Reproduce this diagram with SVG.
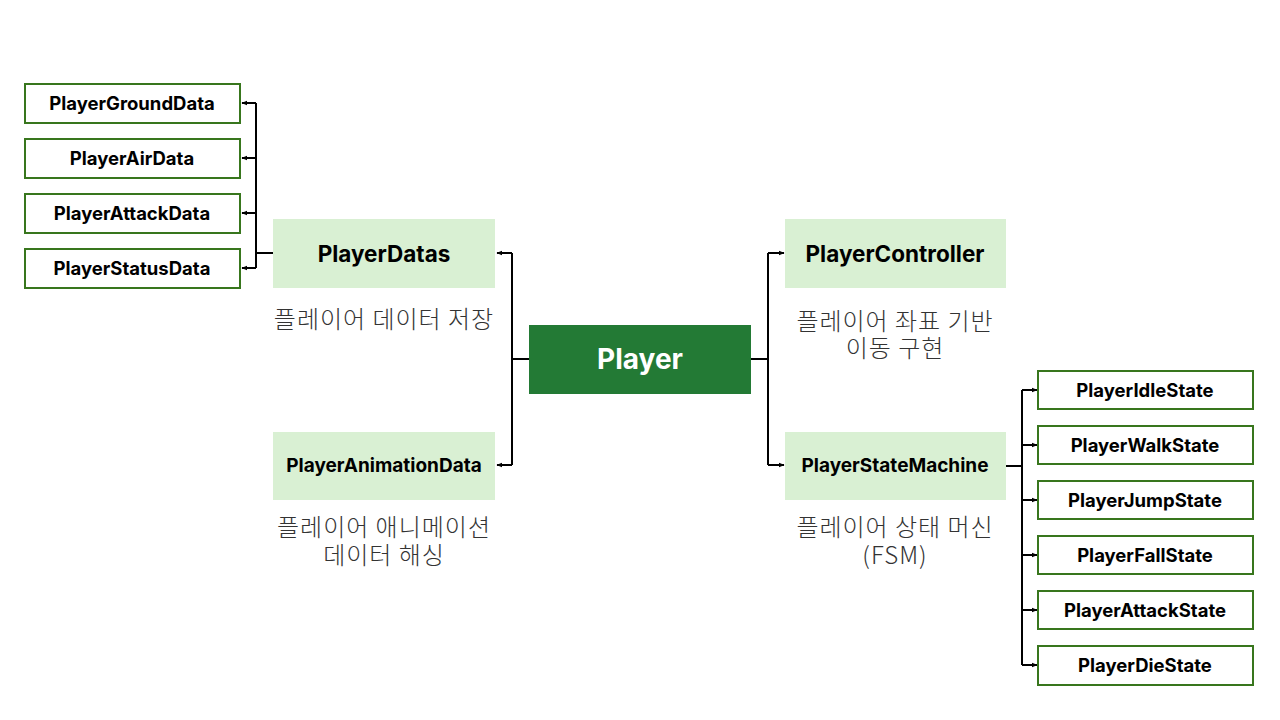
<svg xmlns="http://www.w3.org/2000/svg" width="1280" height="720" viewBox="0 0 1280 720">
<defs>
<marker id="ah" viewBox="0 0 10 10" refX="9" refY="5" markerWidth="6" markerHeight="6" orient="auto-start-reverse" markerUnits="userSpaceOnUse">
<path d="M0,1 L10,5 L0,9 z" fill="#000"/>
</marker>
<style>
.leaf{fill:#fff;stroke:#38761d;stroke-width:2}
.mid{fill:#d9f0d3}
.main{fill:#237a35}
.lt{font-family:Inter,"Noto Sans",sans-serif;font-weight:700;font-size:18.5px;fill:#000;text-anchor:middle;dominant-baseline:central}
.mt{font-family:Inter,"Noto Sans",sans-serif;font-weight:700;font-size:22.5px;fill:#000;text-anchor:middle;dominant-baseline:central}
.mts{font-size:19px}
.pt{font-family:Inter,"Noto Sans",sans-serif;font-weight:700;font-size:28px;fill:#fff;text-anchor:middle;dominant-baseline:central}
.cap{font-family:"Noto Sans CJK KR","Noto Sans",sans-serif;font-weight:300;font-size:24px;letter-spacing:1px;fill:#333;text-anchor:middle}
.ln{fill:none;stroke:#000;stroke-width:2}
</style>
</defs>
<rect width="1280" height="720" fill="#fff"/>
<g id="connectors">
<path class="ln" d="M273,253 H256 M256,103 V268"/>
<path class="ln" d="M256,103 H242" marker-end="url(#ah)"/>
<path class="ln" d="M256,158 H242" marker-end="url(#ah)"/>
<path class="ln" d="M256,213 H242" marker-end="url(#ah)"/>
<path class="ln" d="M256,268 H242" marker-end="url(#ah)"/>
<path class="ln" d="M529,359 H512 M512,253 V465"/>
<path class="ln" d="M512,253 H497" marker-end="url(#ah)"/>
<path class="ln" d="M512,465 H497" marker-end="url(#ah)"/>
<path class="ln" d="M751,359 H768 M768,253 V465"/>
<path class="ln" d="M768,253 H784" marker-end="url(#ah)"/>
<path class="ln" d="M768,465 H784" marker-end="url(#ah)"/>
<path class="ln" d="M1006,466 H1022 M1022,390 V665"/>
<path class="ln" d="M1022,390 H1037" marker-end="url(#ah)"/>
<path class="ln" d="M1022,445 H1037" marker-end="url(#ah)"/>
<path class="ln" d="M1022,500 H1037" marker-end="url(#ah)"/>
<path class="ln" d="M1022,555 H1037" marker-end="url(#ah)"/>
<path class="ln" d="M1022,610 H1037" marker-end="url(#ah)"/>
<path class="ln" d="M1022,665 H1037" marker-end="url(#ah)"/>
</g>
<g id="player"><rect class="main" x="529" y="325" width="222" height="69"/><text class="pt" x="640" y="359">Player</text></g>
<g id="playerDatas"><rect class="mid" x="273" y="219" width="222" height="69"/><text class="mt" x="384" y="253">PlayerDatas</text><text class="cap" x="384" y="328">플레이어 데이터 저장</text></g>
<g id="playerAnimationData"><rect class="mid" x="273" y="432" width="222" height="68"/><text class="mt mts" x="384" y="465">PlayerAnimationData</text><text class="cap" x="384" y="536">플레이어 애니메이션</text><text class="cap" x="384" y="564">데이터 해싱</text></g>
<g id="playerController"><rect class="mid" x="785" y="219" width="221" height="69"/><text class="mt" x="895" y="253">PlayerController</text><text class="cap" x="895" y="330">플레이어 좌표 기반</text><text class="cap" x="895" y="357">이동 구현</text></g>
<g id="playerStateMachine"><rect class="mid" x="785" y="432" width="221" height="68"/><text class="mt mts" x="895" y="465">PlayerStateMachine</text><text class="cap" x="895" y="536">플레이어 상태 머신</text><text class="cap" x="895" y="564">(FSM)</text></g>
<g id="playerGroundData"><rect class="leaf" x="25" y="84" width="215" height="39"/><text class="lt" x="132" y="103">PlayerGroundData</text></g>
<g id="playerAirData"><rect class="leaf" x="25" y="139" width="215" height="39"/><text class="lt" x="132" y="158">PlayerAirData</text></g>
<g id="playerAttackData"><rect class="leaf" x="25" y="194" width="215" height="39"/><text class="lt" x="132" y="213">PlayerAttackData</text></g>
<g id="playerStatusData"><rect class="leaf" x="25" y="249" width="215" height="39"/><text class="lt" x="132" y="268">PlayerStatusData</text></g>
<g id="playerIdleState"><rect class="leaf" x="1038" y="371" width="215" height="38"/><text class="lt" x="1145" y="390">PlayerIdleState</text></g>
<g id="playerWalkState"><rect class="leaf" x="1038" y="426" width="215" height="38"/><text class="lt" x="1145" y="445">PlayerWalkState</text></g>
<g id="playerJumpState"><rect class="leaf" x="1038" y="481" width="215" height="38"/><text class="lt" x="1145" y="500">PlayerJumpState</text></g>
<g id="playerFallState"><rect class="leaf" x="1038" y="536" width="215" height="38"/><text class="lt" x="1145" y="555">PlayerFallState</text></g>
<g id="playerAttackState"><rect class="leaf" x="1038" y="591" width="215" height="38"/><text class="lt" x="1145" y="610">PlayerAttackState</text></g>
<g id="playerDieState"><rect class="leaf" x="1038" y="646" width="215" height="39"/><text class="lt" x="1145" y="665">PlayerDieState</text></g>
</svg>
